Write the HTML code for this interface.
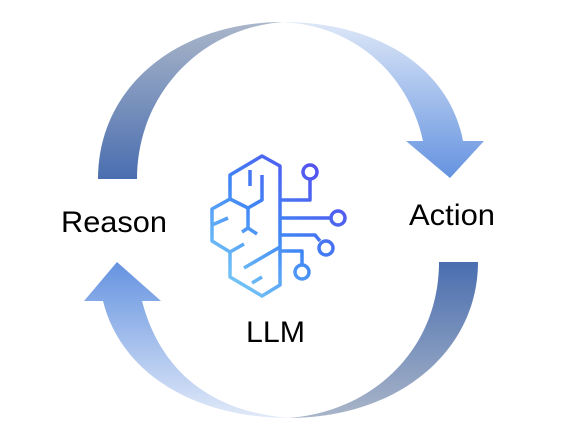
<!DOCTYPE html>
<html><head><meta charset="utf-8"><style>
html,body{margin:0;padding:0;background:#fff;width:566px;height:434px;overflow:hidden}
</style></head><body>
<svg width="566" height="434" viewBox="0 0 566 434" xmlns="http://www.w3.org/2000/svg">
<defs>
<linearGradient id="gTL" x1="0" y1="1" x2="0" y2="0"><stop offset="0" stop-color="#4a6eb0"/><stop offset="1" stop-color="#aab6c9"/></linearGradient>
<linearGradient id="gTR" x1="0" y1="0" x2="0" y2="1"><stop offset="0" stop-color="#dde7f7"/><stop offset="1" stop-color="#6593e0"/></linearGradient>
<linearGradient id="gBR" x1="0" y1="0" x2="0" y2="1"><stop offset="0" stop-color="#4a6eb0"/><stop offset="1" stop-color="#a9b5c8"/></linearGradient>
<linearGradient id="gBL" x1="0" y1="0" x2="0" y2="1"><stop offset="0" stop-color="#6593e0"/><stop offset="1" stop-color="#e0e9f8"/></linearGradient>
<linearGradient id="gB" gradientUnits="userSpaceOnUse" x1="215" y1="295" x2="340" y2="165"><stop offset="0" stop-color="#86d8f6"/><stop offset="0.5" stop-color="#3f86f5"/><stop offset="1" stop-color="#5b45ee"/></linearGradient>
</defs>
<path d="M98,179 C98,85 180,22 283,22 C200,28 137,95 137,179 Z" fill="url(#gTL)"/>
<path d="M283,22 C380,22 450,70 463,141 L484,141 L450,178 L406,141 L423,141 C410,80 360,26 283,22 Z" fill="url(#gTR)"/>
<path d="M439,262 L478,262 C478,350 400,418 288,418 C372,412 439,350 439,262 Z" fill="url(#gBR)"/>
<path d="M142,301 L161,301 L117,262 L84,301 L103,301 C120,370 190,418 290,418 C210,412 160,370 142,301 Z" fill="url(#gBL)"/>
<g fill="none" stroke="url(#gB)" stroke-width="3.5" stroke-linejoin="round" stroke-linecap="butt">
<path d="M230,199 L230,175 L262,156 L280,166 L280,285 L262,296 L230,277 L230,252 L212,241 L212,209 L230,199 Z"/>
<path d="M250,170 L250,186"/>
<path d="M262,175 L262,200 L248,208 L230,199"/>
<path d="M248,208 L248,228 M242,232 L248,228 L257,234"/>
<path d="M212,225 L228,218"/>
<path d="M230,252 L244,244"/>
<path d="M244,268 L280,247"/>
<path d="M252,283 L262,277"/>
<path d="M280,200 L310,200 L310,179"/>
<path d="M280,218 L331,218"/>
<path d="M280,235 L315,235 L320,241"/>
<path d="M280,251 L302,251 L302,265"/>
<circle cx="310" cy="172" r="7"/>
<circle cx="338" cy="218" r="7"/>
<circle cx="326" cy="248" r="7"/>
<circle cx="302" cy="272" r="7"/>
</g>
<g font-family="Liberation Sans, sans-serif" font-size="30" fill="#000">
<text x="61" y="232" textLength="106" lengthAdjust="spacingAndGlyphs">Reason</text>
<text x="409" y="225" textLength="86" lengthAdjust="spacingAndGlyphs">Action</text>
<text x="246" y="342" textLength="59" lengthAdjust="spacingAndGlyphs">LLM</text>
</g>
</svg>
</body></html>
